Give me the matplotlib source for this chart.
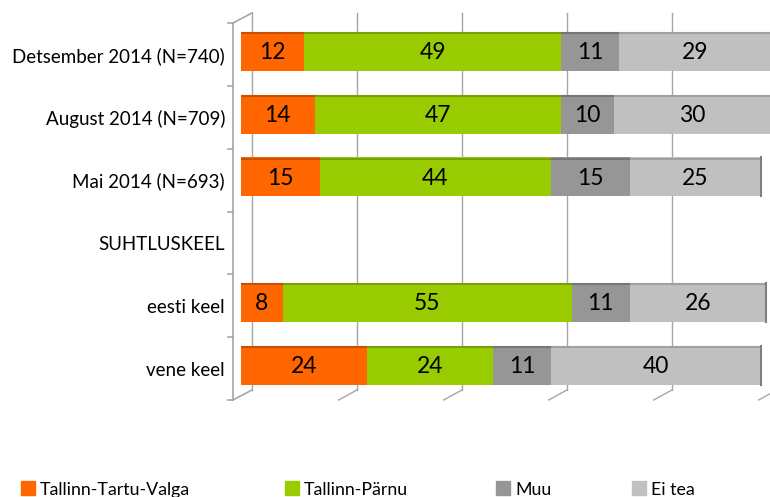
import numpy as np
import matplotlib
matplotlib.use("Agg")
import matplotlib.pyplot as plt

plt.rcParams['font.family'] = ['Lato', 'DejaVu Sans']

# chart data (top row first)
categories = ["Detsember 2014 (N=740)", "August 2014 (N=709)", "Mai 2014 (N=693)",
              "SUHTLUSKEEL", "eesti keel", "vene keel"]
series_names = ["Tallinn-Tartu-Valga", "Tallinn-Pärnu", "Muu", "Ei tea"]
ttv = [12, 14, 15, np.nan, 8, 24]
tp = [49, 47, 44, np.nan, 55, 24]
muu = [11, 10, 15, np.nan, 11, 11]
ei_tea = [29, 30, 25, np.nan, 26, 40]

colors = ["#FF6600", "#99CC00", "#969696", "#C0C0C0"]
top_colors = ["#C85000", "#78A000", "#767676", "#A0A0A0"]
grid_c = "#A6A6A6"

W, H = 770, 497
fig = plt.figure(figsize=(W / 100, H / 100), dpi=100)

# axes placed so that value 0 sits at x=241 px and 5.25 px per unit
px_x = 5.25
px_y = 62.83
left_px, right_px, top_px, bot_px = 232, 770, 10, 405
ax = fig.add_axes([left_px / W, (H - bot_px) / H, (right_px - left_px) / W, (bot_px - top_px) / H])
ax.set_xlim((left_px - 241) / px_x, (right_px - 241) / px_x)
ax.set_ylim(5.5 + (bot_px - 400) / px_y, -0.5 - (23 - top_px) / px_y)
for s in ax.spines.values():
    s.set_visible(False)
ax.set_xticks([])
ax.set_yticks(range(len(categories)))
ax.set_yticklabels(categories, fontsize=13.5, color="#000000")
ax.tick_params(axis='y', length=0, pad=5)

# pseudo 3D frame
front_x = -1.52
back_dx, back_dy = 2.1, -0.16
floor_dx = -1.4
ax.plot([front_x, front_x], [-0.5, 5.5], color=grid_c, lw=1.2, clip_on=False)
for b in np.arange(-0.5, 6.0, 1.0):
    ax.plot([front_x - 0.95, front_x], [b, b], color=grid_c, lw=1.2, clip_on=False)
ax.plot([front_x, back_dx], [-0.5, -0.5 + back_dy], color=grid_c, lw=1.2, clip_on=False)
ax.plot([front_x, back_dx], [5.5, 5.5 + back_dy], color=grid_c, lw=1.2, clip_on=False)
for v in range(0, 101, 20):
    ax.plot([v + back_dx] * 2, [-0.5 + back_dy, 5.5 + back_dy], color=grid_c, lw=1.0, zorder=0)
    if v > 0:
        ax.plot([v + floor_dx, v + back_dx], [5.5, 5.5 + back_dy], color=grid_c, lw=1.0)

# stacked bars
y = np.arange(len(categories)) - 0.05
bar_h = 0.62
left = np.zeros(len(categories))
for vals, c, tc, name in zip([ttv, tp, muu, ei_tea], colors, top_colors, series_names):
    vals = np.array(vals, dtype=float)
    ax.barh(y, vals, left=left, height=bar_h, color=c, edgecolor="none", label=name, zorder=2)
    for yi, lv, v in zip(y, left, vals):
        if np.isnan(v):
            continue
        ax.plot([lv, lv + v], [yi - bar_h / 2 + 0.02] * 2, color=tc, lw=1.5, zorder=3,
                solid_capstyle='butt')
        ax.text(lv + v / 2, yi + 0.02, f"{int(v)}", ha="center", va="center",
                fontsize=16.5, color="#000000", zorder=4)
    left = left + np.nan_to_num(vals)

# dark right end of the stacks
for yi, tot in zip(y, left):
    if tot > 0:
        ax.plot([tot, tot], [yi - bar_h / 2, yi + bar_h / 2], color="#7F7F7F", lw=1.5, zorder=3)

# legend along the bottom edge (cut off like the original)
legend_x = [21, 285, 496, 632]
for lx, c, name in zip(legend_x, colors, series_names):
    fig.patches.append(plt.Rectangle((lx / W, (H - 495) / H), 14 / W, 14 / H,
                                     transform=fig.transFigure, color=c))
    fig.text((lx + 19) / W, (H - 495) / H, name, fontsize=12.8, va="baseline", ha="left")

fig.savefig("out.png", dpi=100)
